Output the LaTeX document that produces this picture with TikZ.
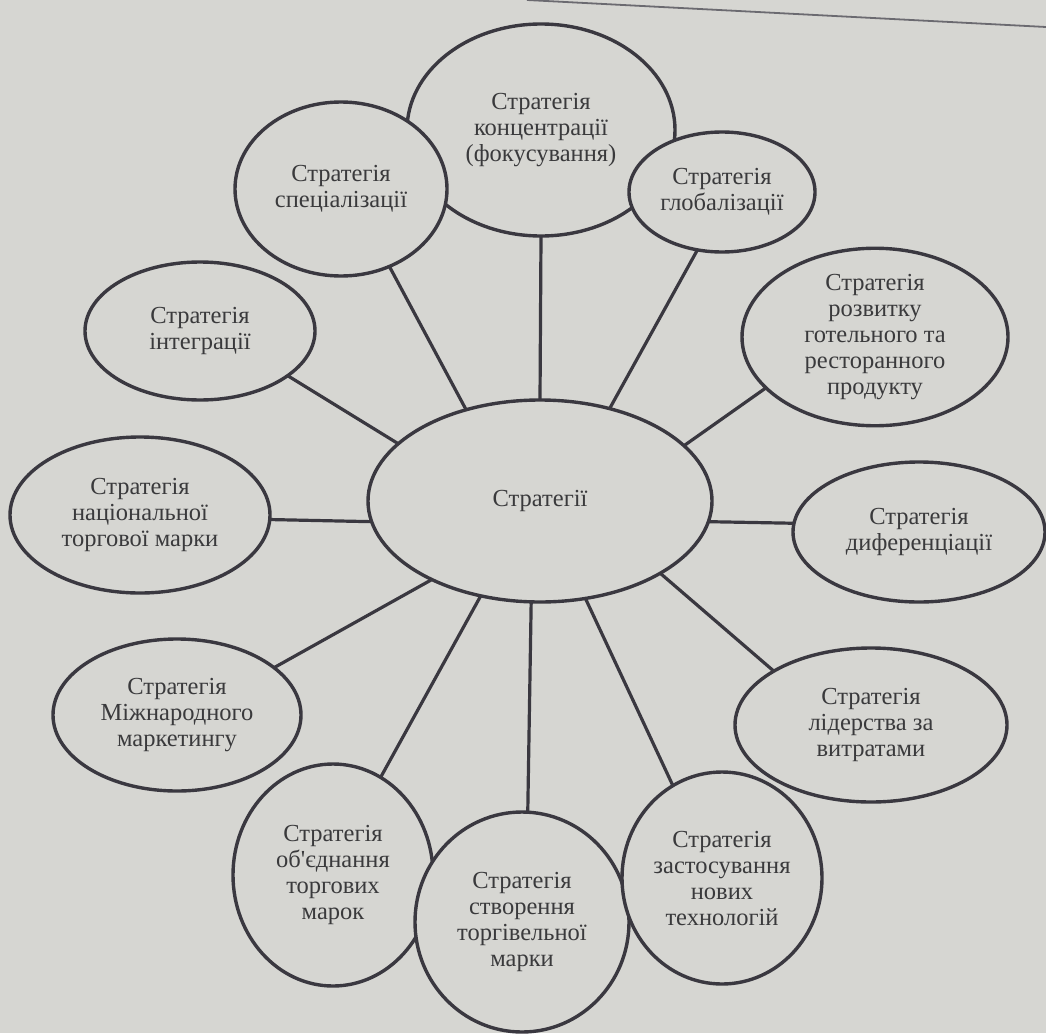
\documentclass[tikz,border=0pt]{standalone}
\usepackage{fontspec}
\setmainfont{Liberation Serif}
\usetikzlibrary{shapes.geometric}
\definecolor{bg}{HTML}{D6D6D2}
\definecolor{ink}{HTML}{3A3840}
\definecolor{txt}{HTML}{3A3A3C}
\begin{document}
\begin{tikzpicture}[x=1pt,y=-1pt,
  bub/.style={ellipse, draw=ink, line width=3.4pt, fill=bg, inner sep=0pt, outer sep=0pt,
    align=center, text=txt, font=\fontsize{24.5}{26}\selectfont},
  link/.style={draw=ink, line width=3.2pt}]
\fill[bg] (0,0) rectangle (1046,1033);
\useasboundingbox (0,0) rectangle (1046,1033);
\draw[ink!75, line width=1.8pt] (527,0) -- (1046,27);

\node[bub, minimum width=344pt, minimum height=202pt] (c) at (540,501) {Стратегії};
\node[bub, minimum width=268pt, minimum height=212pt] (conc) at (541,130) {Стратегія\\концентрації\\(фокусування)};
\node[bub, minimum width=212pt, minimum height=174pt] (spec) at (341,189) {Стратегія\\спеціалізації};
\node[bub, minimum width=186pt, minimum height=120pt] (glob) at (722,192) {Стратегія\\глобалізації};
\node[bub, minimum width=230pt, minimum height=138pt] (integ) at (200,331) {Стратегія\\інтеграції};
\node[bub, minimum width=260pt, minimum height=156pt] (nats) at (140,515) {Стратегія\\національної\\торгової марки};
\node[bub, minimum width=248pt, minimum height=152pt] (mizh) at (177,715) {Стратегія\\Міжнародного\\маркетингу};
\node[bub, minimum width=266pt, minimum height=172pt] (rozv) at (875,337) {Стратегія\\розвитку\\готельного та\\ресторанного\\продукту};
\node[bub, minimum width=252pt, minimum height=140pt] (dyf) at (919,532) {Стратегія\\диференціації};
\node[bub, minimum width=272pt, minimum height=154pt] (lid) at (871,725) {Стратегія\\лідерства за\\витратами};
\node[bub, minimum width=200pt, minimum height=222pt] (obj) at (333,875) {Стратегія\\об\textquotesingle єднання\\торгових\\марок};
\node[bub, minimum width=214pt, minimum height=220pt] (stvor) at (522,922) {Стратегія\\створення\\торгівельної\\марки};
\node[bub, minimum width=200pt, minimum height=212pt] (zast) at (722,878) {Стратегія\\застосування\\нових\\технологій};

\draw[link] (c.129) -- (spec.-58);
\draw[link] (c.90) -- (conc.-90);
\draw[link] (c.53) -- (glob.-113);
\draw[link] (c.21) -- (rozv.205);
\draw[link] (c.-7.6) -- (dyf.176);
\draw[link] (c.-31.7) -- (lid.151);
\draw[link] (c.-65.4) -- (zast.118);
\draw[link] (c.-95.6) -- (stvor.87);
\draw[link] (c.-122.6) -- (obj.64);
\draw[link] (c.-144.2) -- (mizh.26);
\draw[link] (c.-173.4) -- (nats.-2);
\draw[link] (c.158.5) -- (integ.-27);
\end{tikzpicture}
\end{document}
